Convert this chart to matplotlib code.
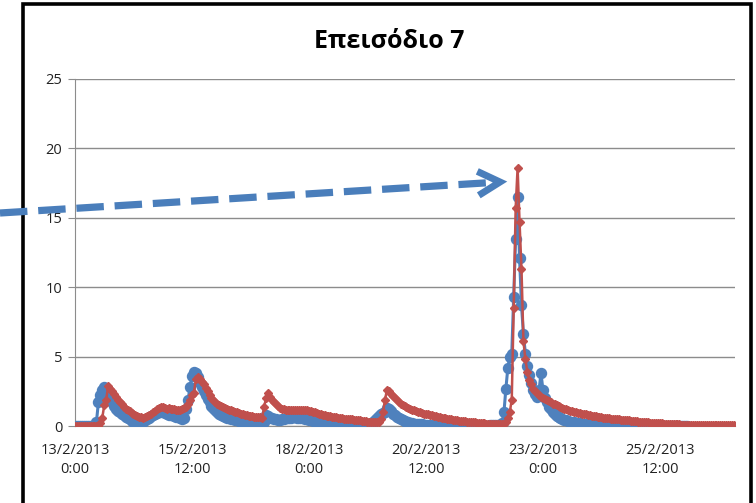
import numpy as np
import matplotlib
matplotlib.use("Agg")
import matplotlib.pyplot as plt
from matplotlib.patches import Rectangle
from matplotlib.lines import Line2D

title = "Επεισόδιο 7"
tick_hours = [0, 60, 120, 180, 240, 300]
tick_labels = ["13/2/2013\n0:00", "15/2/2013\n12:00", "18/2/2013\n0:00",
               "20/2/2013\n12:00", "23/2/2013\n0:00", "25/2/2013\n12:00"]
y_ticks = [0, 5, 10, 15, 20, 25]

# hourly values starting 13/2/2013 0:00
blue = [
    0, 0, 0, 0, 0, 0, 0, 0, 0, 0, 0, 0.3, 1.7, 2.2, 2.6, 2.8, 2.6, 2.3, 2.0, 1.7, 1.45, 1.25, 1.1, 1.0,
    0.88, 0.77, 0.67, 0.58, 0.48, 0.38, 0.3, 0.28, 0.27, 0.27, 0.28, 0.32, 0.4, 0.5, 0.6, 0.7, 0.8, 0.9, 0.97, 1.0, 1.02, 1.0, 0.92, 0.86,
    0.82, 0.8, 0.76, 0.72, 0.67, 0.62, 0.57, 0.5, 0.6, 1.2, 1.9, 2.8, 3.6, 3.9, 3.8, 3.5, 3.1, 2.8, 2.5, 2.2, 1.95, 1.7, 1.45, 1.28,
    1.13, 1.0, 0.9, 0.8, 0.72, 0.66, 0.6, 0.56, 0.52, 0.48, 0.44, 0.4, 0.36, 0.32, 0.28, 0.25, 0.22, 0.2, 0.18, 0.16, 0.14, 0.12, 0.11, 0.1,
    0.1, 0.3, 0.8, 0.7, 0.6, 0.55, 0.5, 0.47, 0.45, 0.45, 0.47, 0.5, 0.55, 0.58, 0.6, 0.6, 0.62, 0.62, 0.6, 0.6, 0.58, 0.55, 0.5, 0.48,
    0.45, 0.4, 0.37, 0.33, 0.3, 0.28, 0.26, 0.24, 0.22, 0.2, 0.19, 0.18, 0.16, 0.15, 0.13, 0.12, 0.11, 0.1, 0.1, 0.09, 0.08, 0.08, 0.07, 0.07,
    0.06, 0.06, 0.05, 0.05, 0.05, 0.06, 0.08, 0.12, 0.2, 0.3, 0.45, 0.6, 0.75, 0.85, 0.95, 1.0, 1.3, 1.2, 1.05, 0.9, 0.78, 0.66, 0.56, 0.48,
    0.42, 0.36, 0.31, 0.27, 0.24, 0.21, 0.18, 0.16, 0.14, 0.12, 0.11, 0.1, 0.09, 0.08, 0.07, 0.06, 0.06, 0.05, 0.05, 0.05, 0.04, 0.04, 0.04, 0.04,
    0.04, 0.03, 0.03, 0.03, 0.03, 0.03, 0.03, 0.03, 0.03, 0.03, 0.03, 0.03, 0.03, 0.03, 0.03, 0.03, 0.03, 0.03, 0.03, 0.03, 0.03, 0.04, 0.04, 0.05,
    0.05, 0.06, 0.08, 0.2, 1.0, 2.7, 4.2, 5.0, 5.2, 9.3, 13.5, 16.5, 12.1, 8.7, 6.6, 5.2, 4.3, 3.7, 3.1, 2.6, 2.3, 2.1, 2.6, 3.8,
    2.6, 2.0, 1.7, 1.4, 1.2, 1.0, 0.85, 0.72, 0.62, 0.55, 0.5, 0.45, 0.4, 0.36, 0.32, 0.29, 0.26, 0.23, 0.21, 0.19, 0.17, 0.15, 0.14, 0.13,
    0.12, 0.11, 0.1, 0.09, 0.08, 0.08, 0.07, 0.07, 0.06, 0.06, 0.06, 0.05, 0.05, 0.05, 0.05, 0.04, 0.04, 0.04, 0.04, 0.04, 0.04, 0.03, 0.03, 0.03,
    0.03, 0.03, 0.03, 0.03, 0.03, 0.03, 0.03, 0.03, 0.03, 0.03, 0.03, 0.03, 0.02, 0.02, 0.02, 0.02, 0.02, 0.02, 0.02, 0.02, 0.02, 0.02, 0.02, 0.02,
    0.02, 0.02, 0.02,
]

red = [
    0, 0, 0, 0, 0, 0, 0, 0, 0, 0, 0, 0, 0, 0.2, 0.6, 1.5, 1.9, 2.85, 2.7, 2.5, 2.3, 2.1, 1.9, 1.7,
    1.55, 1.4, 1.25, 1.15, 1.05, 0.95, 0.85, 0.8, 0.72, 0.66, 0.62, 0.6, 0.62, 0.7, 0.78, 0.88, 0.98, 1.1, 1.2, 1.3, 1.4, 1.35, 1.3, 1.25,
    1.3, 1.25, 1.2, 1.2, 1.15, 1.15, 1.15, 1.2, 1.3, 1.4, 1.6, 1.9, 2.2, 2.4, 3.4, 3.5, 3.4, 3.2, 3.0, 2.75, 2.5, 2.25, 2.05, 1.9,
    1.75, 1.62, 1.52, 1.45, 1.38, 1.3, 1.24, 1.18, 1.13, 1.08, 1.03, 0.98, 0.94, 0.9, 0.86, 0.82, 0.78, 0.75, 0.72, 0.7, 0.67, 0.65, 0.63, 0.62,
    0.6, 1.4, 2.0, 2.4, 2.1, 1.9, 1.7, 1.55, 1.42, 1.32, 1.25, 1.2, 1.18, 1.17, 1.16, 1.15, 1.15, 1.15, 1.14, 1.14, 1.13, 1.13, 1.12, 1.12,
    1.1, 1.07, 1.03, 0.98, 0.93, 0.88, 0.85, 0.82, 0.78, 0.75, 0.72, 0.7, 0.67, 0.64, 0.62, 0.6, 0.58, 0.56, 0.54, 0.52, 0.5, 0.48, 0.47, 0.45,
    0.43, 0.42, 0.4, 0.38, 0.36, 0.34, 0.32, 0.3, 0.28, 0.27, 0.26, 0.26, 0.3, 0.5, 1.0, 1.9, 2.6, 2.5, 2.3, 2.15, 2.0, 1.85, 1.72, 1.6,
    1.5, 1.42, 1.35, 1.3, 1.24, 1.18, 1.12, 1.07, 1.02, 0.98, 0.94, 0.9, 0.87, 0.84, 0.81, 0.78, 0.75, 0.7, 0.67, 0.64, 0.61, 0.58, 0.55, 0.52,
    0.49, 0.47, 0.45, 0.43, 0.41, 0.39, 0.37, 0.35, 0.33, 0.31, 0.3, 0.28, 0.27, 0.26, 0.24, 0.23, 0.22, 0.2, 0.19, 0.18, 0.17, 0.16, 0.15, 0.14,
    0.13, 0.12, 0.12, 0.12, 0.14, 0.3, 0.6, 1.0, 1.9, 8.5, 15.7, 18.6, 14.7, 11.3, 6.1, 4.8, 3.9, 3.3, 3.0, 2.7, 2.5, 2.35, 2.2, 2.1,
    2.0, 1.92, 1.85, 1.78, 1.7, 1.62, 1.55, 1.48, 1.42, 1.36, 1.3, 1.25, 1.2, 1.15, 1.11, 1.07, 1.03, 0.99, 0.96, 0.93, 0.9, 0.87, 0.84, 0.81,
    0.78, 0.75, 0.72, 0.69, 0.67, 0.65, 0.63, 0.61, 0.59, 0.57, 0.55, 0.53, 0.51, 0.5, 0.48, 0.47, 0.45, 0.44, 0.42, 0.41, 0.4, 0.38, 0.37, 0.35,
    0.34, 0.32, 0.31, 0.3, 0.29, 0.28, 0.26, 0.25, 0.24, 0.23, 0.22, 0.21, 0.2, 0.19, 0.18, 0.17, 0.16, 0.15, 0.14, 0.13, 0.12, 0.12, 0.11, 0.1,
    0.1, 0.1, 0.09, 0.09, 0.09, 0.08, 0.08, 0.08, 0.08, 0.07, 0.07, 0.07, 0.07, 0.07, 0.06, 0.06, 0.06, 0.06, 0.06, 0.06, 0.05, 0.05, 0.05, 0.05,
    0.05, 0.05, 0.05,
]

BLUE = "#4F81BD"
RED = "#C0504D"
GRID = "#8C8C8C"
ARROW = "#4A7EBB"

plt.rcParams['font.family'] = ['Open Sans', 'DejaVu Sans']

W, H = 756, 503
fig = plt.figure(figsize=(W / 100, H / 100), dpi=100)
fig.patch.set_facecolor("white")

ax = fig.add_axes([75 / W, 1 - 426 / H, (735 - 75) / W, (426 - 79) / H])
ax.set_facecolor("none")

xb = np.arange(len(blue))
xr = np.arange(len(red))
ax.plot(xb, blue, color=BLUE, lw=2.2, marker="o", ms=7.2, mec=BLUE, mfc=BLUE, zorder=3)
ax.plot(xr, red, color=RED, lw=1.8, marker="D", ms=3.8, mec=RED, mfc=RED, zorder=4)

ax.set_xlim(0, 338.5)
ax.set_ylim(0, 25)
ax.set_yticks(y_ticks)
ax.set_yticklabels([str(v) for v in y_ticks], fontsize=10.5, color="#222222")
ax.set_xticks(tick_hours)
ax.set_xticklabels(tick_labels, fontsize=10.5, color="#222222", linespacing=1.35)
ax.tick_params(axis="y", length=5, color=GRID, pad=4)
ax.tick_params(axis="x", length=0, pad=12)
ax.grid(axis="y", color=GRID, lw=1)
ax.set_axisbelow(True)
for s in ["top", "right"]:
    ax.spines[s].set_visible(False)
ax.spines["left"].set_color(GRID)
ax.spines["bottom"].set_color(GRID)
ax.spines["bottom"].set_zorder(2)

fig.text(389 / W, 1 - 42 / H, title, ha="center", va="center",
         fontsize=18, fontweight="bold", color="black")

# chart frame
fig.patches.append(Rectangle((23 / W, -0.05), (751 - 23) / W, 1.05 - 4 / H,
                             transform=fig.transFigure, fill=False,
                             edgecolor="black", lw=2.6, zorder=10))

# dashed arrow annotation (figure pixel geometry)
x0, y0 = 0.0, 213.0
x1, y1 = 500.0, 182.0
d = np.array([x1 - x0, y1 - y0])
d = d / np.hypot(*d)
n = np.array([-d[1], d[0]])
tip = np.array([x1, y1])
base = tip - 22 * d
shaft_end = tip - 6 * d
fig.add_artist(Line2D([x0 / W, shaft_end[0] / W], [1 - y0 / H, 1 - shaft_end[1] / H],
                      transform=fig.transFigure, color=ARROW, lw=5.2,
                      linestyle=(0, (3.8, 1.5)), solid_capstyle="butt",
                      dash_capstyle="butt", zorder=11))
p1 = base + 12 * n
p2 = base - 12 * n
fig.add_artist(Line2D([p1[0] / W, tip[0] / W, p2[0] / W],
                      [1 - p1[1] / H, 1 - tip[1] / H, 1 - p2[1] / H],
                      transform=fig.transFigure, color=ARROW, lw=5.0,
                      solid_joinstyle="miter", solid_capstyle="butt", zorder=11))

fig.savefig("out.png", dpi=100)
